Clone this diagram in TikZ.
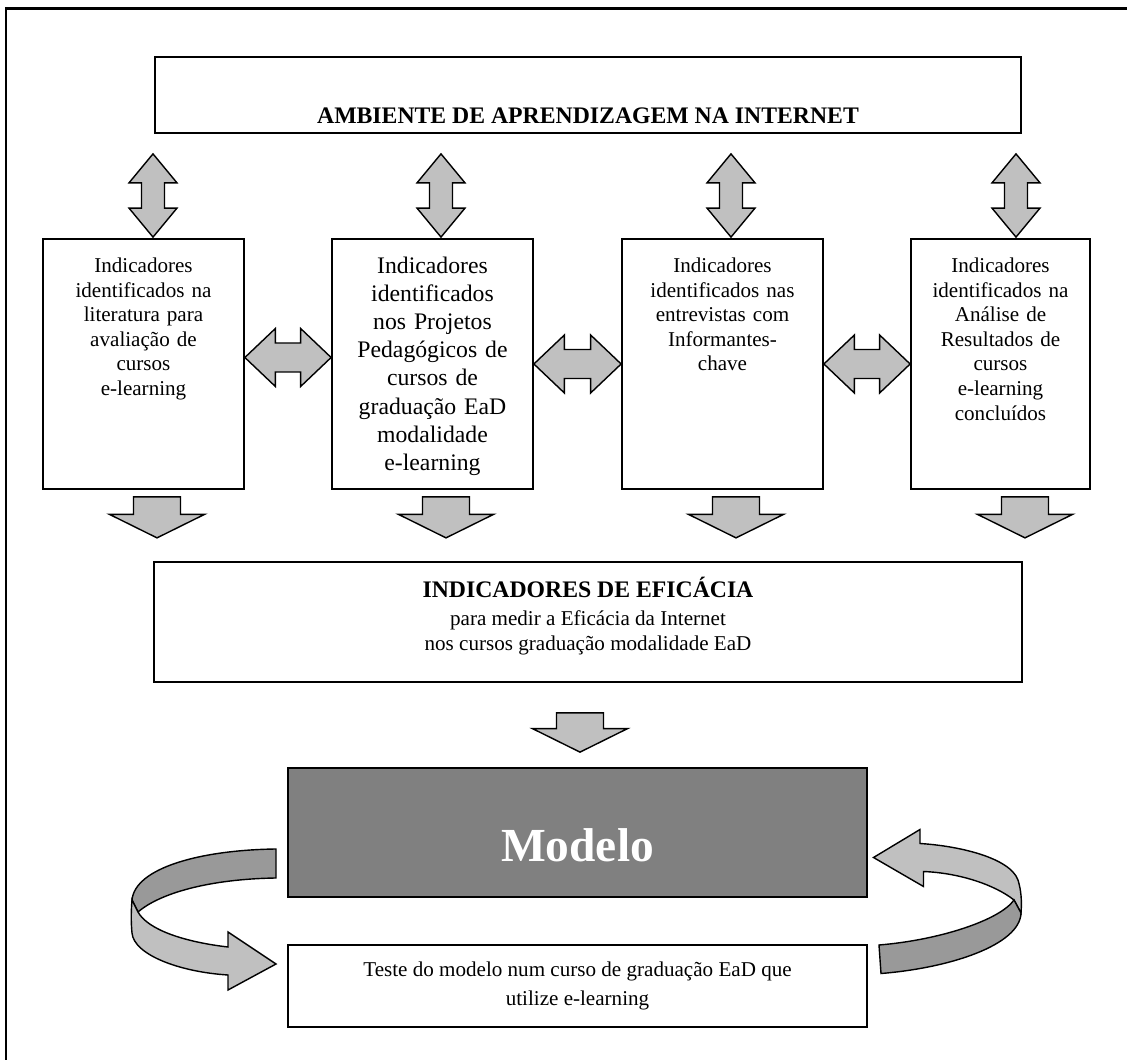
\documentclass[tikz,border=0pt]{standalone}
\usepackage{fontspec}
\setmainfont{Liberation Serif}
\usepackage{tikz}
\usetikzlibrary{calc}
\definecolor{carrow}{HTML}{C0C0C0}
\definecolor{cband}{HTML}{999999}
\definecolor{cmodel}{HTML}{808080}

\tikzset{
  blockarrow/.style={draw=black,fill=carrow,line width=0.8pt,line join=miter},
  plainbox/.style={draw=black,fill=white,line width=1pt,align=center},
  indbox/.style={plainbox,minimum height=5cm,inner xsep=0.16cm,inner ysep=0.35cm,
    text depth=3.95cm,font=\fontsize{12}{14}\selectfont},
}

% block arrows between two points
\newcommand{\vdblarrow}[2]{%
  \path[blockarrow] let \p1=#1, \p2=#2 in
    (\x1,\y1) -- (\x1+0.48cm,\y1-0.58cm) -- (\x1+0.23cm,\y1-0.58cm)
    -- (\x1+0.23cm,\y2+0.58cm) -- (\x1+0.48cm,\y2+0.58cm) -- (\x1,\y2)
    -- (\x1-0.48cm,\y2+0.58cm) -- (\x1-0.23cm,\y2+0.58cm)
    -- (\x1-0.23cm,\y1-0.58cm) -- (\x1-0.48cm,\y1-0.58cm) -- cycle;}
\newcommand{\hdblarrow}[2]{%
  \path[blockarrow] let \p1=#1, \p2=#2 in
    (\x1,\y1) -- (\x1+0.61cm,\y1+0.58cm) -- (\x1+0.61cm,\y1+0.29cm)
    -- (\x2-0.61cm,\y1+0.29cm) -- (\x2-0.61cm,\y1+0.58cm) -- (\x2,\y1)
    -- (\x2-0.61cm,\y1-0.58cm) -- (\x2-0.61cm,\y1-0.29cm)
    -- (\x1+0.61cm,\y1-0.29cm) -- (\x1+0.61cm,\y1-0.58cm) -- cycle;}
\newcommand{\downblock}[2]{%
  \path[blockarrow] let \p1=#1, \p2=#2 in
    (\x1-0.47cm,\y1) -- (\x1+0.47cm,\y1) -- (\x1+0.47cm,\y2+0.47cm)
    -- (\x1+0.95cm,\y2+0.47cm) -- (\x1,\y2) -- (\x1-0.95cm,\y2+0.47cm)
    -- (\x1-0.47cm,\y2+0.47cm) -- cycle;}

\begin{document}
\begin{tikzpicture}
  \useasboundingbox (0,0) rectangle (22.54,-21.2);
  \draw[line width=1.3pt] (0.12,-0.17) rectangle (22.9,-21.6);

  \node[plainbox,minimum width=17.32cm,minimum height=1.52cm,inner ysep=0pt,
    text height=33pt,text depth=1pt,font=\bfseries\fontsize{13.5}{16}\selectfont]
    (env) at (11.76,-1.9) {AMBIENTE DE APRENDIZAGEM NA INTERNET};

  \node[indbox,text width=3.7cm] (b1) at (2.87,-7.28)
    {Indicadores\\identificados na\\literatura para\\avaliação de\\cursos\\e-learning};
  \node[indbox,text width=3.7cm,font=\fontsize{13.5}{16}\selectfont] (b2) at (8.65,-7.28)
    {Indicadores\\identificados\\nos Projetos\\Pedagógicos de\\cursos de\\graduação EaD\\modalidade\\e-learning};
  \node[indbox,text width=3.7cm] (b3) at (14.45,-7.28)
    {Indicadores\\identificados nas\\entrevistas com\\Informantes-\\chave};
  \node[indbox,text width=3.26cm] (b4) at (20.01,-7.28)
    {Indicadores\\identificados na\\Análise de\\Resultados de\\cursos\\e-learning\\concluídos};

  \node[plainbox,minimum width=17.36cm,minimum height=2.4cm,
    font=\fontsize{12}{14}\selectfont] (eff) at (11.76,-12.44)
    {{\bfseries\fontsize{13.5}{16}\selectfont INDICADORES DE EFICÁCIA}\\[2pt]
     para medir a Eficácia da Internet\\nos cursos graduação modalidade EaD\rule[-9.5pt]{0pt}{0pt}};

  \node[draw=black,fill=cmodel,line width=1pt,text=white,
    minimum width=11.58cm,minimum height=2.58cm,text height=1.15cm,text depth=0pt,
    font=\bfseries\fontsize{27}{32}\selectfont] (mod) at (11.55,-16.65) {Modelo};

  \node[plainbox,minimum width=11.58cm,minimum height=1.64cm,
    font=\fontsize{12}{16}\selectfont] (test) at (11.55,-19.72)
    {Teste do modelo num curso de graduação EaD que\\utilize e-learning};

  % arrows to the learning environment
  \vdblarrow{($(env.south -| b1.north)+(0.19,-0.4)$)}{($(b1.north)+(0.19,0.02)$)}
  \vdblarrow{($(env.south -| b2.north)+(0.17,-0.4)$)}{($(b2.north)+(0.17,0.02)$)}
  \vdblarrow{($(env.south -| b3.north)+(0.17,-0.4)$)}{($(b3.north)+(0.17,0.02)$)}
  \vdblarrow{($(env.south -| b4.north)+(0.31,-0.4)$)}{($(b4.north)+(0.31,0.02)$)}

  \hdblarrow{($(b1.east)+(0,0.13)$)}{($(b2.west)+(0,0.13)$)}
  \hdblarrow{(b2.east)}{(b3.west)}
  \hdblarrow{(b3.east)}{(b4.west)}

  \downblock{($(b1.south)+(0.27,-0.14)$)}{($(b1.south)+(0.27,-0.96)$)}
  \downblock{($(b2.south)+(0.27,-0.14)$)}{($(b2.south)+(0.27,-0.96)$)}
  \downblock{($(b3.south)+(0.27,-0.14)$)}{($(b3.south)+(0.27,-0.96)$)}
  \downblock{($(b4.south)+(0.49,-0.14)$)}{($(b4.south)+(0.49,-0.96)$)}

  \downblock{($(eff.south)+(-0.16,-0.6)$)}{($(mod.north)+(0.05,0.3)$)}

  % loop between model and test
  \draw[line width=0.8pt,fill=cband] (5.52,-16.98) .. controls (4.0,-17.0) and (2.7,-17.36) .. (2.64,-18.0)
    -- (2.76,-18.24) .. controls (3.2,-17.86) and (4.2,-17.58) .. (5.52,-17.56) -- cycle;
  \draw[blockarrow] (2.64,-18.0) .. controls (2.62,-18.25) and (2.62,-18.45) .. (2.64,-18.66)
    .. controls (2.68,-19.1) and (3.6,-19.44) .. (4.56,-19.5) -- (4.56,-19.8) -- (5.52,-19.28)
    -- (4.56,-18.64) -- (4.56,-18.94) .. controls (3.7,-18.84) and (2.96,-18.6) .. (2.76,-18.24) -- cycle;

  \draw[blockarrow] (18.4,-16.87) .. controls (19.2,-16.92) and (20.2,-17.16) .. (20.36,-17.6)
    .. controls (20.42,-17.8) and (20.44,-18.0) .. (20.42,-18.26) -- (20.28,-18.0)
    .. controls (19.9,-17.7) and (19.2,-17.46) .. (18.47,-17.43) -- (18.47,-17.73)
    -- (17.47,-17.15) -- (18.4,-16.59) -- cycle;
  \draw[line width=0.8pt,fill=cband] (20.28,-18.0) .. controls (20.0,-18.4) and (18.8,-18.8) .. (17.58,-18.9)
    -- (17.62,-19.47) .. controls (19.0,-19.36) and (20.4,-18.9) .. (20.42,-18.26) -- cycle;
\end{tikzpicture}
\end{document}
